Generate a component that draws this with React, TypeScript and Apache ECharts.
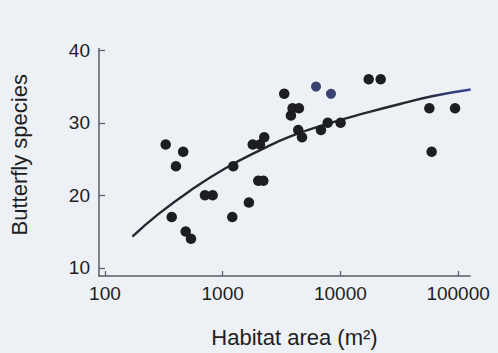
import React, { useEffect, useRef } from "react";
import * as echarts from "echarts";

// Habitat area (m²) and butterfly species counts
const areas = [328, 369, 401, 462, 485, 538, 707, 822, 1207, 1230, 1670, 1800, 2075, 2255, 2006, 2215, 3334, 3800, 3926, 4444, 4385, 4720, 6839, 7800, 10040, 17400, 21990, 57000, 59600, 94200];
const species = [27, 17, 24, 26, 15, 14, 20, 20, 17, 24, 19, 27, 27, 28, 22, 22, 34, 31, 32, 32, 29, 28, 29, 30, 30, 36, 36, 32, 26, 32];
const blueAreas = [6210, 8318];
const blueSpecies = [35, 34];
const curveAreas = [171, 284, 546, 1047, 2006, 3855, 8704, 16730, 32060, 61500, 128000];
const curveSpecies = [14.3, 17.4, 20.8, 23.7, 26.1, 28.2, 30.1, 31.4, 32.6, 33.7, 34.6];
const xTickValues = [100, 1000, 10000, 100000];
const yTickValues = [10, 20, 30, 40];

const lg = (v: number) => Math.log10(v);

export default function App() {
  const ref = useRef<HTMLDivElement>(null);
  useEffect(() => {
    if (!ref.current) return;
    const chart = echarts.init(ref.current, null, { renderer: "svg" });
    const font = "'Liberation Sans', Arial, Helvetica, sans-serif";
    chart.setOption({
      animation: false,
      backgroundColor: "#edf0f5",
      grid: { left: 99, right: 28, top: 48.5, bottom: 76.3 },
      xAxis: {
        type: "value",
        min: lg(89),
        max: 5.101,
        name: "Habitat area (m²)",
        nameLocation: "middle",
        nameGap: 50,
        nameTextStyle: { fontFamily: font, fontSize: 22, color: "#1e1e22", padding: [0, 0, 0, 20] },
        axisLine: { show: true, lineStyle: { color: "#5c5c64", width: 1.5 } },
        axisTick: { show: true, inside: true, length: 5, customValues: xTickValues.map(lg), lineStyle: { color: "#5c5c64", width: 1.2 } },
        axisLabel: {
          customValues: xTickValues.map(lg),
          formatter: (v: number) => String(Math.round(Math.pow(10, v))),
          fontFamily: font,
          fontSize: 19,
          color: "#1e1e22",
          margin: 8,
        },
        splitLine: { show: false },
      },
      yAxis: {
        type: "value",
        min: 8.87,
        max: 40.25,
        name: "Butterfly species",
        nameLocation: "middle",
        nameGap: 69,
        nameRotate: 90,
        nameTextStyle: { fontFamily: font, fontSize: 22, color: "#1e1e22", padding: [0, 0, 0, 15] },
        axisLine: { show: true, lineStyle: { color: "#5c5c64", width: 1.5 } },
        axisTick: { show: true, inside: true, length: 6, customValues: yTickValues, lineStyle: { color: "#5c5c64", width: 1.2 } },
        axisLabel: {
          customValues: yTickValues,
          fontFamily: font,
          fontSize: 19,
          color: "#1e1e22",
          margin: 9,
        },
        splitLine: { show: false },
      },
      series: [
        {
          type: "line",
          data: curveAreas.map((a, i) => [lg(a), curveSpecies[i]]),
          smooth: true,
          showSymbol: false,
          lineStyle: {
            width: 2.4,
            color: new echarts.graphic.LinearGradient(0, 0, 1, 0, [
              { offset: 0, color: "#26272f" },
              { offset: 0.85, color: "#26272f" },
              { offset: 1, color: "#3848a0" },
            ]),
          },
          z: 2,
        },
        {
          type: "scatter",
          data: areas.map((a, i) => [lg(a), species[i]]),
          symbolSize: 10.5,
          itemStyle: { color: "#1d1d24", opacity: 1 },
          z: 3,
        },
        {
          type: "scatter",
          data: blueAreas.map((a, i) => [lg(a), blueSpecies[i]]),
          symbolSize: 10,
          itemStyle: { color: "#3a4270", opacity: 1 },
          z: 3,
        },
      ],
    });
    return () => chart.dispose();
  }, []);
  return <div ref={ref} style={{ position: "fixed", left: 0, top: 0, width: 498, height: 353 }} />;
}
